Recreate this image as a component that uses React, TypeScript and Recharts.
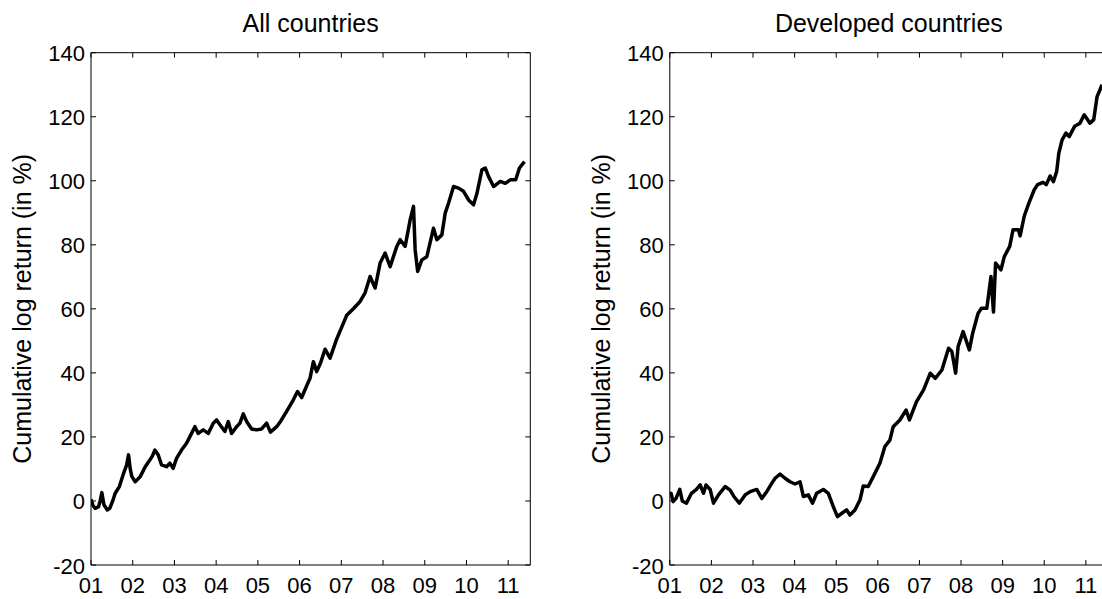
import React from 'react';
import { LineChart, Line, XAxis, YAxis, Label } from 'recharts';

const yearTicks = [2001, 2002, 2003, 2004, 2005, 2006, 2007, 2008, 2009, 2010, 2011];
const yearLabels = ['01', '02', '03', '04', '05', '06', '07', '08', '09', '10', '11'];
const valueTicks = [-20, 0, 20, 40, 60, 80, 100, 120, 140];
const xDomain: [number, number] = [2001, 2011.53];
const yDomain: [number, number] = [-20, 140];

const titles = ['All countries', 'Developed countries'];
const yAxisTitle = 'Cumulative log return (in %)';

// All countries
const allDates = [
  2001.0, 2001.05, 2001.1, 2001.18, 2001.22, 2001.26, 2001.31, 2001.39, 2001.45, 2001.52,
  2001.58, 2001.68, 2001.78, 2001.85, 2001.9, 2001.94, 2001.98, 2002.06, 2002.18, 2002.3,
  2002.41, 2002.47, 2002.53, 2002.61, 2002.69, 2002.81, 2002.89, 2002.97, 2003.05, 2003.17,
  2003.29, 2003.41, 2003.49, 2003.57, 2003.69, 2003.81, 2003.93, 2004.01, 2004.09, 2004.21,
  2004.29, 2004.37, 2004.49, 2004.57, 2004.65, 2004.73, 2004.85, 2004.97, 2005.09, 2005.21,
  2005.3, 2005.45, 2005.55, 2005.69, 2005.85, 2005.95, 2006.05, 2006.17, 2006.25, 2006.33,
  2006.41, 2006.5, 2006.61, 2006.73, 2006.89, 2007.0, 2007.13, 2007.3, 2007.45, 2007.57,
  2007.69, 2007.81, 2007.93, 2008.05, 2008.17, 2008.33, 2008.41, 2008.53, 2008.65, 2008.73,
  2008.77, 2008.83, 2008.93, 2009.05, 2009.21, 2009.29, 2009.41, 2009.49, 2009.57, 2009.69,
  2009.81, 2009.93, 2010.05, 2010.17, 2010.25, 2010.37, 2010.45, 2010.53, 2010.65, 2010.81,
  2010.93, 2011.05, 2011.18, 2011.27, 2011.39,
];
const allValues = [
  0.5, -1.5, -2.3, -1.8, 0, 2.6, -1.2, -2.8, -2.3, 0,
  2.4, 4.5, 8.6, 11, 14.4, 10, 7.6, 6, 7.6, 10.7,
  12.8, 14, 15.9, 14.4, 11.3, 10.7, 11.8, 10.2, 13.3, 15.9,
  18, 21.1, 23.2, 21.1, 22.2, 21.1, 24.3, 25.3, 23.8, 21.7,
  24.8, 21.1, 23.2, 24.3, 27.2, 24.8, 22.5, 22.2, 22.5, 24.3,
  21.5, 23.2, 25, 28, 31.6, 34.2, 32.3, 36, 38.3, 43.5,
  40.4, 43, 47.4, 44.6, 50.6, 54, 58, 60.2, 62.3, 65,
  70.1, 66.5, 74.3, 77.4, 73.2, 79.5, 81.6, 79.5, 87.8, 92,
  78.4, 71.7, 75.3, 76.3, 85.2, 81.6, 83.1, 89.9, 93, 98.2,
  97.7, 96.7, 94, 92.5, 96, 103.4, 104, 101.3, 98.2, 99.8,
  99.2, 100.3, 100.3, 104, 106,
];

// Developed countries
const devDates = [
  2001.0, 2001.03, 2001.08, 2001.15, 2001.24, 2001.3, 2001.4, 2001.52, 2001.64, 2001.73,
  2001.81, 2001.87, 2001.97, 2002.05, 2002.17, 2002.33, 2002.45, 2002.54, 2002.67, 2002.81,
  2002.93, 2003.09, 2003.21, 2003.33, 2003.45, 2003.53, 2003.65, 2003.77, 2003.89, 2004.01,
  2004.13, 2004.21, 2004.33, 2004.43, 2004.53, 2004.69, 2004.81, 2004.93, 2005.03, 2005.16,
  2005.25, 2005.33, 2005.45, 2005.57, 2005.65, 2005.77, 2005.89, 2006.05, 2006.17, 2006.29,
  2006.37, 2006.53, 2006.68, 2006.76, 2006.93, 2007.1, 2007.26, 2007.38, 2007.54, 2007.7,
  2007.78, 2007.87, 2007.93, 2008.05, 2008.2, 2008.28, 2008.41, 2008.49, 2008.62, 2008.72,
  2008.78, 2008.83, 2008.96, 2009.04, 2009.17, 2009.25, 2009.38, 2009.42, 2009.52, 2009.63,
  2009.76, 2009.84, 2009.97, 2010.05, 2010.14, 2010.22, 2010.3, 2010.35, 2010.43, 2010.52,
  2010.6, 2010.73, 2010.86, 2010.96, 2011.1, 2011.19, 2011.27, 2011.39,
];
const devValues = [
  2, 2.4, -0.2, 0.8, 3.6, 0, -0.7, 2.4, 3.6, 5,
  2.4, 5, 3.6, -0.7, 1.9, 4.5, 3.4, 1.4, -0.7, 1.9,
  2.9, 3.6, 0.8, 2.9, 5.5, 7.1, 8.4, 7.1, 6, 5.3,
  6, 1.4, 1.9, -0.7, 2.4, 3.6, 2.4, -1.8, -4.9, -3.6,
  -2.8, -4.4, -2.8, 0.3, 4.7, 4.5, 7.6, 11.8, 17, 19,
  23.2, 25.3, 28.4, 25.3, 31, 34.7, 39.9, 38.3, 40.9, 47.7,
  46.7, 39.9, 48.2, 52.9, 47.2, 52.4, 58.6, 60.2, 60.2, 70.1,
  59, 74.3, 72.2, 76.3, 79.5, 84.7, 84.7, 82.8, 89, 93,
  97.2, 98.8, 99.5, 98.8, 101.5, 99.7, 103, 108.6, 112.8, 114.9,
  113.8, 117, 118, 120.6, 118, 119.1, 126.3, 130,
];

const FONT = '"Liberation Sans", Arial, Helvetica, sans-serif';

const buildData = (dates: number[], values: number[]) =>
  dates.map((t, i) => ({ t, v: values[i] }));

const allData = buildData(allDates, allValues);
const devData = buildData(devDates, devValues);

const BottomTick = (props: any) => {
  const { x, y, payload } = props;
  const idx = yearTicks.indexOf(payload.value);
  return (
    <g>
      <line x1={x} x2={x} y1={y} y2={y - 5} stroke="#000" strokeWidth={1} />
      <text x={x} y={y + 28} textAnchor="middle" fontSize={22} fontFamily={FONT} fill="#000">
        {yearLabels[idx]}
      </text>
    </g>
  );
};

const TopTick = (props: any) => {
  const { x, y } = props;
  return <line x1={x} x2={x} y1={y} y2={y + 5} stroke="#000" strokeWidth={1} />;
};

const LeftTick = (props: any) => {
  const { x, y, payload } = props;
  return (
    <g>
      <line x1={x} x2={x + 5} y1={y} y2={y} stroke="#000" strokeWidth={1} />
      <text x={x - 6} y={y + 8.5} textAnchor="end" fontSize={22} fontFamily={FONT} fill="#000">
        {String(payload.value)}
      </text>
    </g>
  );
};

const RightTick = (props: any) => {
  const { x, y } = props;
  return <line x1={x} x2={x - 5} y1={y} y2={y} stroke="#000" strokeWidth={1} />;
};

type PanelProps = {
  data: { t: number; v: number }[];
  title: string;
  width: number;
  margin: { top: number; right: number; bottom: number; left: number };
};

const Panel = ({ data, title, width, margin }: PanelProps) => (
  <LineChart width={width} height={599} data={data} margin={margin}>
    <XAxis
      xAxisId="bottom"
      type="number"
      dataKey="t"
      domain={xDomain}
      ticks={yearTicks}
      interval={0}
      height={1}
      tickSize={0}
      tickMargin={0}
      tickLine={false}
      tick={<BottomTick />}
      axisLine={{ stroke: '#000', strokeWidth: 1 }}
      allowDataOverflow
    />
    <XAxis
      xAxisId="top"
      orientation="top"
      type="number"
      dataKey="t"
      domain={xDomain}
      ticks={yearTicks}
      interval={0}
      height={1}
      tickSize={0}
      tickMargin={0}
      tickLine={false}
      tick={<TopTick />}
      axisLine={{ stroke: '#000', strokeWidth: 1 }}
      allowDataOverflow
      label={
        <Label
          content={(p: any) => {
            const vb = p.viewBox || {};
            return (
              <text
                x={(vb.x ?? 0) + (vb.width ?? 0) / 2}
                y={(vb.y ?? 0) + (vb.height ?? 0) - 20.7}
                textAnchor="middle"
                fontSize={25}
                fontFamily={FONT}
                fill="#000"
              >
                {title}
              </text>
            );
          }}
        />
      }
    />
    <YAxis
      yAxisId="left"
      type="number"
      domain={yDomain}
      ticks={valueTicks}
      interval={0}
      width={1}
      tickSize={0}
      tickMargin={0}
      tickLine={false}
      tick={<LeftTick />}
      axisLine={{ stroke: '#000', strokeWidth: 1 }}
      allowDataOverflow
      label={
        <Label
          content={(p: any) => {
            const vb = p.viewBox || {};
            const cx = (vb.x ?? 0) + (vb.width ?? 0) - 60;
            const cy = (vb.y ?? 0) + (vb.height ?? 0) / 2;
            return (
              <text
                x={cx}
                y={cy}
                transform={`rotate(-90, ${cx}, ${cy})`}
                textAnchor="middle"
                fontSize={25}
                fontFamily={FONT}
                fill="#000"
              >
                {yAxisTitle}
              </text>
            );
          }}
        />
      }
    />
    <YAxis
      yAxisId="right"
      orientation="right"
      type="number"
      domain={yDomain}
      ticks={valueTicks}
      interval={0}
      width={1}
      tickSize={0}
      tickMargin={0}
      tickLine={false}
      tick={<RightTick />}
      axisLine={{ stroke: '#000', strokeWidth: 1 }}
      allowDataOverflow
    />
    <Line
      xAxisId="top"
      yAxisId="right"
      dataKey="v"
      stroke="none"
      dot={false}
      activeDot={false}
      isAnimationActive={false}
      legendType="none"
    />
    <Line
      xAxisId="bottom"
      yAxisId="left"
      type="linear"
      dataKey="v"
      stroke="#000"
      strokeWidth={3.5}
      strokeLinejoin="round"
      dot={false}
      activeDot={false}
      isAnimationActive={false}
    />
  </LineChart>
);

export default function App() {
  return (
    <div
      style={{
        position: 'absolute',
        left: 0,
        top: 0,
        width: 1102,
        height: 599,
        overflow: 'hidden',
        background: '#fff',
      }}
    >
      <div style={{ position: 'absolute', left: 0, top: 0 }}>
        <Panel
          data={allData}
          title={titles[0]}
          width={551}
          margin={{ top: 51.7, right: 19.7, bottom: 33, left: 90 }}
        />
      </div>
      <div style={{ position: 'absolute', left: 551, top: 0 }}>
        <Panel
          data={devData}
          title={titles[1]}
          width={600}
          margin={{ top: 51.7, right: 42.1, bottom: 33, left: 117.8 }}
        />
      </div>
    </div>
  );
}
